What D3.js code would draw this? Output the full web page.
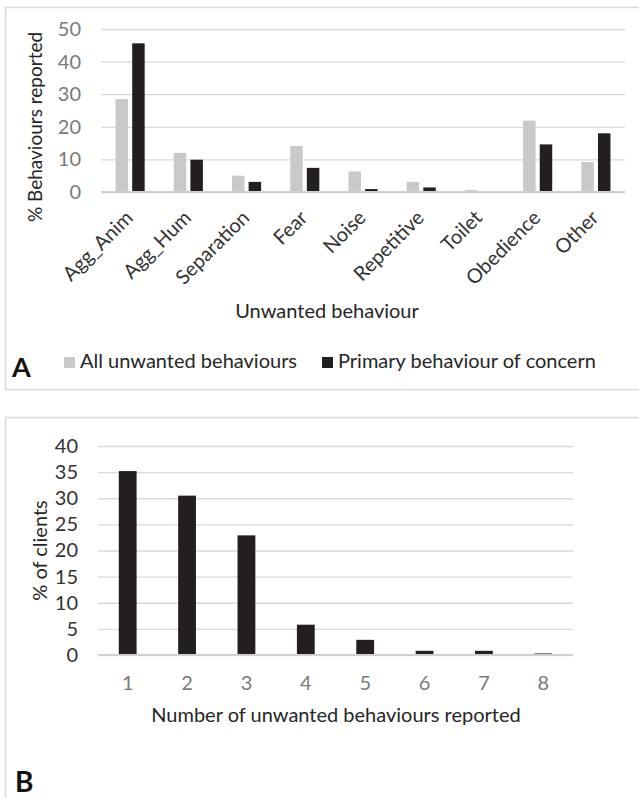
<!DOCTYPE html>
<html>
<head>
<meta charset="utf-8">
<script src="https://cdn.jsdelivr.net/npm/d3@7"></script>
<style>
  body { margin: 0; background: #fff; }
  text { font-family: Lato, "Open Sans", sans-serif; }
  .grid line { stroke: #d9d9d9; stroke-width: 1.3px; }
  .tick-num text { fill: #7a7a7a; font-size: 20px; }
  .tick-dark text { fill: #333; }
  .cat text { fill: #333; font-size: 20px; }
  .title { fill: #262626; font-size: 20px; }
</style>
</head>
<body>
<script>
// panel A data
const categoriesA = ["Agg_Anim", "Agg_Hum", "Separation", "Fear", "Noise", "Repetitive", "Toilet", "Obedience", "Other"];
const seriesA = ["All unwanted behaviours", "Primary behaviour of concern"];
const allUnwanted = [28.5, 12.0, 5.0, 14.1, 6.3, 3.1, 0.6, 21.9, 9.2];
const primaryConcern = [45.6, 9.9, 3.1, 7.4, 0.9, 1.4, 0, 14.6, 18.0];
const ticksA = [0, 10, 20, 30, 40, 50];

// panel B data
const categoriesB = ["1", "2", "3", "4", "5", "6", "7", "8"];
const clientsPct = [35.2, 30.5, 22.9, 5.8, 2.9, 0.8, 0.8, 0.3];
const ticksB = [0, 5, 10, 15, 20, 25, 30, 35, 40];

const colors = ["#c8c9ca", "#231f20"];

const svg = d3.select("body").append("svg")
  .attr("width", 639)
  .attr("height", 798);

// panel borders
svg.append("rect").attr("x", 5.5).attr("y", 7.5).attr("width", 640).attr("height", 382)
  .attr("fill", "none").attr("stroke", "#d9d9d9").attr("stroke-width", 1.5);
svg.append("rect").attr("x", 5.5).attr("y", 417.5).attr("width", 640).attr("height", 400)
  .attr("fill", "none").attr("stroke", "#d9d9d9").attr("stroke-width", 1.5);

// ---------- Panel A ----------
const xA = d3.scaleBand().domain(categoriesA).range([101, 625])
  .paddingInner(0.5).paddingOuter(0.25);
const xA1 = d3.scaleBand().domain(seriesA).range([0, xA.bandwidth()]).paddingInner(0.25);
const yA = d3.scaleLinear().domain([0, 50]).range([192, 29]);

svg.append("g")
  .attr("class", "grid tick-num")
  .attr("transform", "translate(101,0)")
  .call(d3.axisLeft(yA).tickValues(ticksA).tickSize(-524).tickPadding(20))
  .call(g => g.select(".domain").remove());

const groupsA = svg.append("g").selectAll("g")
  .data(categoriesA)
  .join("g")
  .attr("transform", d => `translate(${xA(d)},0)`);

groupsA.selectAll("rect")
  .data((d, i) => [allUnwanted[i], primaryConcern[i]].map((v, j) => ({ s: seriesA[j], v, j })))
  .join("rect")
  .attr("x", d => xA1(d.s))
  .attr("width", xA1.bandwidth())
  .attr("y", d => yA(d.v))
  .attr("height", d => yA(0) - yA(d.v))
  .attr("fill", d => colors[d.j]);

svg.append("line")
  .attr("x1", 101).attr("x2", 625)
  .attr("y1", yA(0)).attr("y2", yA(0))
  .attr("stroke", "#d0d0d0").attr("stroke-width", 1.8);

svg.append("g")
  .attr("class", "cat")
  .attr("transform", `translate(0,${yA(0)})`)
  .call(d3.axisBottom(xA).tickSize(0))
  .call(g => g.select(".domain").remove())
  .selectAll("text")
  .attr("text-anchor", "end")
  .attr("dy", null)
  .attr("y", null)
  .attr("transform", "translate(4,27) rotate(-45)");

svg.append("text").attr("class", "title")
  .attr("transform", "translate(42,127) rotate(-90)")
  .attr("text-anchor", "middle")
  .style("font-size", "19px")
  .text("% Behaviours reported");

svg.append("text").attr("class", "title")
  .attr("x", 327).attr("y", 318)
  .attr("text-anchor", "middle")
  .text("Unwanted behaviour");

// legend
const legendX = [64, 322];
const legend = svg.append("g").selectAll("g")
  .data(seriesA)
  .join("g")
  .attr("transform", (d, i) => `translate(${legendX[i]},357)`);
legend.append("rect").attr("width", 11).attr("height", 11).attr("fill", (d, i) => colors[i]);
legend.append("text").attr("class", "title").attr("x", 16).attr("y", 11).text(d => d);

svg.append("text")
  .attr("x", 12).attr("y", 377)
  .attr("font-family", "Liberation Sans, Arial, sans-serif")
  .attr("font-weight", "bold").attr("font-size", 27).attr("fill", "#111")
  .text("A");

// ---------- Panel B ----------
const xB = d3.scaleBand().domain(categoriesB).range([98, 573])
  .paddingInner(0.7).paddingOuter(0.35);
const yB = d3.scaleLinear().domain([0, 40]).range([655, 446]);

svg.append("g")
  .attr("class", "grid tick-num tick-dark")
  .attr("transform", "translate(98,0)")
  .call(d3.axisLeft(yB).tickValues(ticksB).tickSize(-475).tickPadding(20))
  .call(g => g.select(".domain").remove());

svg.append("g").selectAll("rect")
  .data(clientsPct)
  .join("rect")
  .attr("x", (d, i) => xB(categoriesB[i]))
  .attr("width", xB.bandwidth())
  .attr("y", d => yB(d))
  .attr("height", d => yB(0) - yB(d))
  .attr("fill", colors[1]);

svg.append("line")
  .attr("x1", 98).attr("x2", 573)
  .attr("y1", yB(0)).attr("y2", yB(0))
  .attr("stroke", "#d0d0d0").attr("stroke-width", 1.8);

svg.append("g")
  .attr("class", "tick-num")
  .attr("transform", `translate(0,${yB(0)})`)
  .call(d3.axisBottom(xB).tickSize(0).tickPadding(21))
  .call(g => g.select(".domain").remove());

svg.append("text").attr("class", "title")
  .attr("transform", `translate(47,${(yB(0) + yB(40)) / 2}) rotate(-90)`)
  .attr("text-anchor", "middle")
  .text("% of clients");

svg.append("text").attr("class", "title")
  .attr("x", 336).attr("y", 722)
  .attr("text-anchor", "middle")
  .text("Number of unwanted behaviours reported");

svg.append("text")
  .attr("x", 15).attr("y", 792)
  .attr("font-weight", "bold").attr("font-size", 28).attr("fill", "#111")
  .text("B");
</script>
</body>
</html>
